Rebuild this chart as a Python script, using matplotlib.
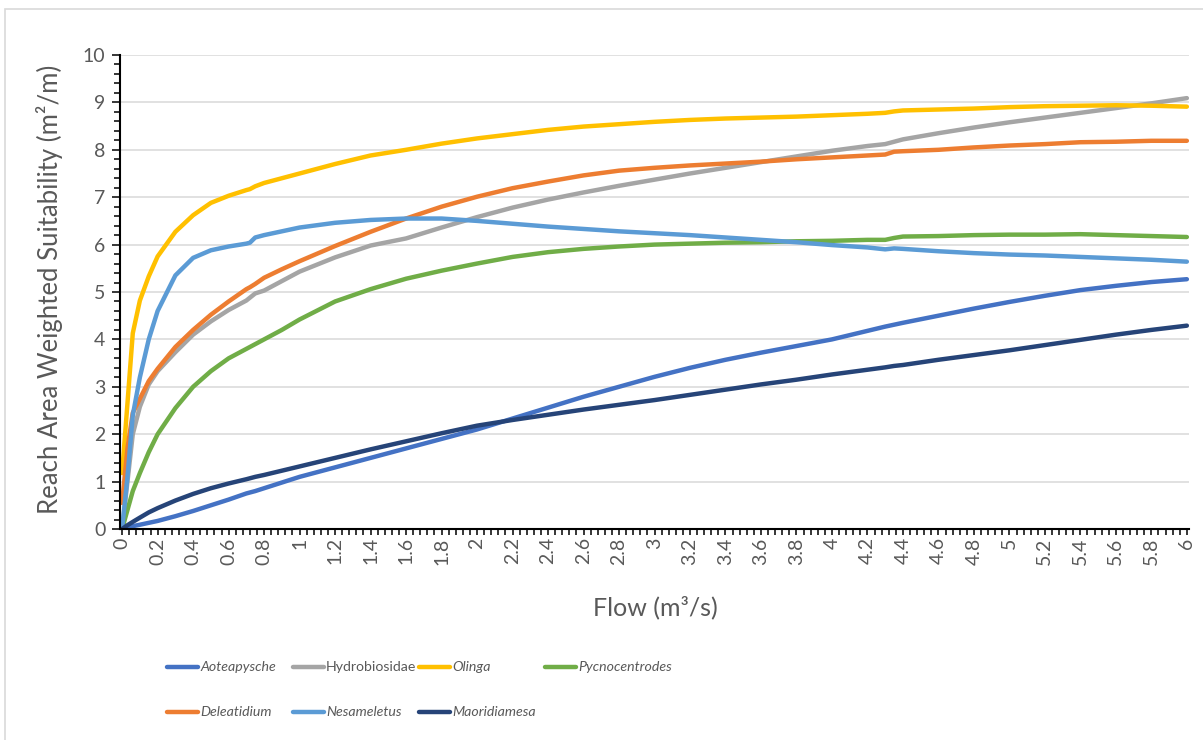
import matplotlib
matplotlib.use("Agg")
import matplotlib.pyplot as plt
from matplotlib import font_manager as fm
from matplotlib.lines import Line2D
from matplotlib.patches import Rectangle
from matplotlib.ticker import MultipleLocator

# Flow (m3/s) at which the reach suitability was evaluated
flow = [0, 0.03, 0.06, 0.1, 0.15, 0.2, 0.3, 0.4, 0.5, 0.6, 0.7, 0.72, 0.75, 0.8,
        0.9, 1.0, 1.2, 1.4, 1.6, 1.8, 2.0, 2.2, 2.4, 2.6, 2.8, 3.0, 3.2, 3.4, 3.6,
        3.8, 4.0, 4.2, 4.3, 4.35, 4.4, 4.6, 4.8, 5.0, 5.2, 5.4, 5.6, 5.8, 6.0]

aoteapysche = [0, 0.03, 0.06, 0.09, 0.13, 0.17, 0.27, 0.38, 0.5, 0.62, 0.75, 0.77,
               0.8, 0.86, 0.98, 1.1, 1.3, 1.5, 1.7, 1.9, 2.1, 2.33, 2.56, 2.79,
               3.0, 3.21, 3.4, 3.57, 3.72, 3.86, 4.0, 4.18, 4.27, 4.31, 4.35,
               4.5, 4.65, 4.79, 4.92, 5.04, 5.13, 5.21, 5.27]
hydrobiosidae = [0, 1.0, 2.0, 2.58, 3.05, 3.33, 3.73, 4.1, 4.38, 4.62, 4.82, 4.88,
                 4.97, 5.03, 5.23, 5.43, 5.73, 5.98, 6.13, 6.36, 6.58, 6.78, 6.95,
                 7.1, 7.24, 7.37, 7.5, 7.62, 7.74, 7.86, 7.98, 8.08, 8.12, 8.17,
                 8.22, 8.35, 8.47, 8.58, 8.68, 8.78, 8.88, 8.98, 9.09]
olinga = [1.18, 2.65, 4.13, 4.82, 5.33, 5.75, 6.27, 6.62, 6.88, 7.03, 7.15, 7.17,
          7.23, 7.3, 7.4, 7.5, 7.7, 7.88, 8.0, 8.13, 8.24, 8.33, 8.42, 8.49, 8.54,
          8.59, 8.63, 8.66, 8.68, 8.7, 8.73, 8.76, 8.78, 8.81, 8.83, 8.85, 8.87,
          8.9, 8.92, 8.93, 8.94, 8.93, 8.91]
pycnocentrodes = [0, 0.4, 0.8, 1.18, 1.62, 2.0, 2.55, 3.0, 3.33, 3.6, 3.8, 3.84,
                  3.9, 4.0, 4.2, 4.42, 4.8, 5.06, 5.28, 5.45, 5.6, 5.74, 5.84, 5.91,
                  5.96, 6.0, 6.02, 6.04, 6.05, 6.07, 6.08, 6.1, 6.1, 6.14, 6.17,
                  6.18, 6.2, 6.21, 6.21, 6.22, 6.2, 6.18, 6.16]
deleatidium = [0.55, 1.7, 2.45, 2.75, 3.12, 3.38, 3.84, 4.2, 4.52, 4.8, 5.06, 5.1,
               5.17, 5.3, 5.48, 5.65, 5.97, 6.27, 6.55, 6.8, 7.01, 7.19, 7.33, 7.46,
               7.56, 7.62, 7.67, 7.71, 7.75, 7.8, 7.84, 7.88, 7.9, 7.96, 7.97, 8.0,
               8.05, 8.09, 8.12, 8.16, 8.17, 8.19, 8.19]
nesameletus = [0, 1.1, 2.4, 3.2, 4.0, 4.6, 5.35, 5.72, 5.88, 5.96, 6.02, 6.04, 6.15,
               6.2, 6.28, 6.36, 6.46, 6.52, 6.55, 6.55, 6.5, 6.44, 6.38, 6.33, 6.28,
               6.24, 6.2, 6.15, 6.1, 6.05, 5.99, 5.94, 5.9, 5.92, 5.91, 5.86, 5.82,
               5.79, 5.77, 5.74, 5.71, 5.68, 5.64]
maoridiamesa = [0, 0.08, 0.15, 0.24, 0.35, 0.44, 0.6, 0.74, 0.86, 0.96, 1.05, 1.07,
                1.1, 1.14, 1.23, 1.32, 1.5, 1.68, 1.85, 2.02, 2.18, 2.3, 2.41, 2.52,
                2.62, 2.72, 2.83, 2.94, 3.05, 3.15, 3.26, 3.36, 3.41, 3.44, 3.46,
                3.57, 3.67, 3.77, 3.88, 3.99, 4.1, 4.2, 4.29]

names = ["Aoteapysche", "Hydrobiosidae", "Olinga", "Pycnocentrodes",
         "Deleatidium", "Nesameletus", "Maoridiamesa"]
values = [aoteapysche, hydrobiosidae, olinga, pycnocentrodes,
          deleatidium, nesameletus, maoridiamesa]
colors = ["#4472C4", "#A5A5A5", "#FFC000", "#70AD47",
          "#ED7D31", "#5B9BD5", "#264478"]
italic = [True, False, True, True, True, True, True]

x_tick_values = [round(0.2 * i, 1) for i in range(31)]
x_tick_labels = [f"{v:g}" for v in x_tick_values]

available = {f.name for f in fm.fontManager.ttflist}
main_font = "Lato" if "Lato" in available else "DejaVu Sans"
plt.rcParams["font.family"] = [main_font, "DejaVu Sans"]

text_color = "#595959"
W, H = 1203, 740

fig = plt.figure(figsize=(W / 100, H / 100), dpi=100)
fig.patch.set_facecolor("white")

# chart-area border
fig.add_artist(Rectangle((5 / W, -0.1), 2.0, (H - 9) / H + 0.1,
                         transform=fig.transFigure, fill=False,
                         edgecolor="#D9D9D9", lw=1.2))

ax = fig.add_axes([120 / W, 1 - 529 / H, 1069 / W, 474 / H])

for i, (name, vals, col) in enumerate(zip(names, values, colors)):
    ax.plot(flow, vals, color=col, lw=3.2, solid_capstyle="round",
            solid_joinstyle="round", zorder=3 + i)

ax.set_xlim(-0.012, 6.012)
ax.set_ylim(0, 10)

ax.set_yticks(range(0, 11))
ax.yaxis.set_minor_locator(MultipleLocator(0.2))
ax.set_xticks(x_tick_values)
ax.set_xticklabels(x_tick_labels, rotation=90, va="top", ha="center")
ax.xaxis.set_minor_locator(MultipleLocator(0.04))

ax.yaxis.grid(True, color="#D9D9D9", lw=1.1)
ax.set_axisbelow(True)

for s in ["top", "right"]:
    ax.spines[s].set_visible(False)
for s in ["left", "bottom"]:
    ax.spines[s].set_color("black")
    ax.spines[s].set_linewidth(1.5)
    ax.spines[s].set_zorder(20)

ax.tick_params(axis="y", which="major", length=5.5, width=1.1, color="black",
               labelsize=14, labelcolor=text_color, pad=5)
ax.tick_params(axis="y", which="minor", length=4, width=1.1, color="black")
ax.tick_params(axis="x", which="both", length=4, width=1.1, color="black",
               labelsize=14, labelcolor=text_color, pad=2)

fig.text(50 / W, 1 - 289 / H, "Reach Area Weighted Suitability (m\u00b2/m)",
         rotation=90, ha="center", va="center", fontsize=18.5, color=text_color)
fig.text(655 / W, 1 - 607 / H, "Flow (m\u00b3/s)", ha="center", va="center",
         fontsize=18, color=text_color)

# legend, two rows of four columns
row_y = [667, 712]
col_x = [167, 293, 419, 545]
for k, (name, col, it) in enumerate(zip(names, colors, italic)):
    r, c = (0, k) if k < 4 else (1, k - 4)
    x0, y0 = col_x[c], row_y[r]
    fig.add_artist(Line2D([x0 / W, (x0 + 31) / W], [1 - y0 / H, 1 - y0 / H],
                          transform=fig.transFigure, color=col, lw=3.2,
                          solid_capstyle="round"))
    fig.text((x0 + 33) / W, 1 - y0 / H, name, ha="left", va="center",
             fontsize=10.2, color=text_color,
             style="italic" if it else "normal")

fig.savefig("out.png", dpi=100, facecolor="white")
